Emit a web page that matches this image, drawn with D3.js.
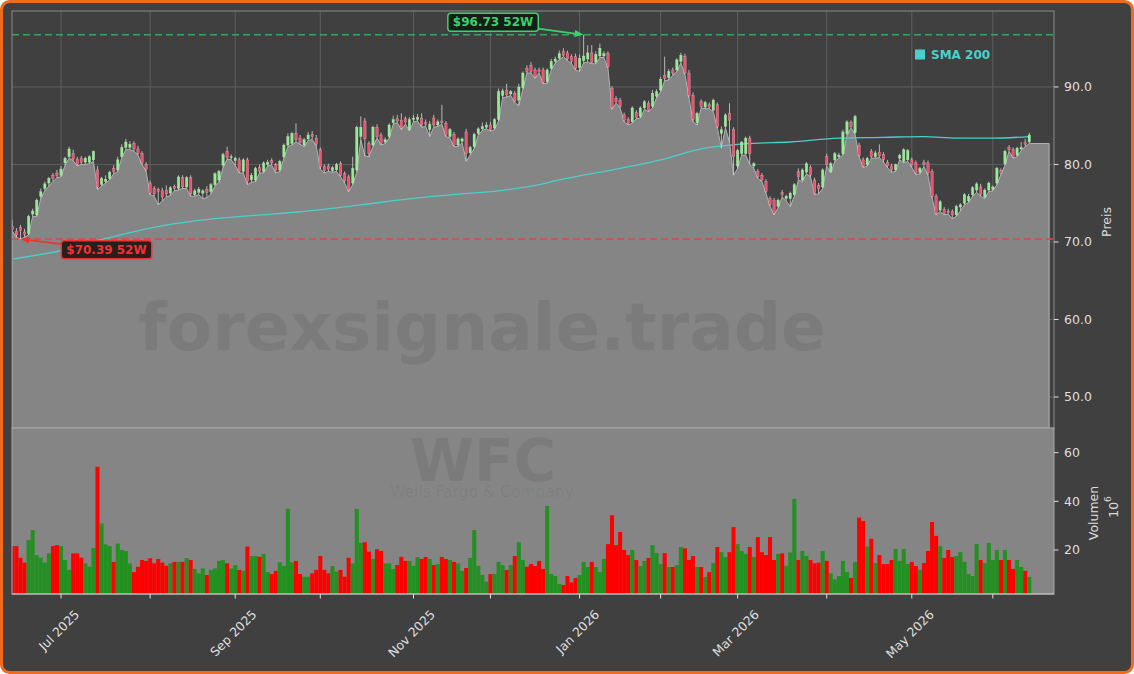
<!DOCTYPE html>
<html>
<head>
<meta charset="utf-8">
<script src="https://cdn.jsdelivr.net/npm/d3@7"></script>
<style>
  body { margin: 0; background: #ffffff; }
  svg { display: block; font-family: "DejaVu Sans", sans-serif; }
</style>
</head>
<body>
<svg id="chart" width="1134" height="674"></svg>
<script>
// ---- data ----
const startDate = new Date(2025, 5, 12);
const holidays = ["2025-06-19", "2025-07-04", "2025-09-01", "2025-11-27", "2025-12-25",
                  "2026-01-01", "2026-01-19", "2026-02-16", "2026-04-03", "2026-05-25"];

const opens = [72.0,71.4,71.9,71.3,71.1,73.6,73.5,75.9,76.9,77.6,
  78.6,78.9,78.6,80.2,81.0,81.4,80.7,80.8,80.3,80.3,
  80.6,79.3,77.4,77.8,78.2,79.5,79.3,81.0,82.2,82.2,
  82.7,82.0,81.4,80.0,77.6,76.9,76.8,76.6,76.7,76.3,
  77.2,76.9,78.3,77.1,78.3,76.1,76.4,76.3,76.8,76.5,
  77.4,78.0,79.9,81.7,80.9,80.5,80.6,79.1,80.6,78.0,
  78.0,79.6,79.1,80.0,80.5,80.0,79.3,81.0,82.5,82.7,
  84.0,83.4,82.5,83.3,83.9,83.4,81.9,79.7,79.8,79.2,
  79.3,80.1,78.8,78.4,77.6,79.3,83.6,85.6,82.7,82.5,
  84.8,83.8,82.9,83.6,85.4,85.9,85.7,85.9,84.5,85.8,
  85.8,86.0,85.4,84.5,86.0,85.1,85.6,85.3,83.6,83.9,
  82.5,83.0,84.2,81.5,82.3,84.0,84.6,84.8,85.1,84.7,
  85.8,88.9,89.6,89.1,89.2,88.3,89.9,92.4,92.8,92.2,
  92.2,92.2,90.7,92.4,93.3,93.7,94.6,94.4,93.9,93.9,
  92.5,93.4,93.6,94.4,93.2,94.0,94.0,94.3,89.8,88.5,
  88.3,86.4,85.8,85.5,86.7,86.2,87.3,87.9,87.5,88.8,
  89.6,91.5,91.2,92.2,92.2,93.3,93.9,91.8,88.9,85.4,
  88.1,87.4,87.7,87.0,87.7,84.0,84.9,86.6,84.5,79.8,
  81.4,81.4,83.4,79.8,79.1,78.6,77.8,75.6,75.4,74.6,
  76.4,75.6,75.6,76.1,79.1,78.0,79.0,79.6,78.0,77.3,
  77.1,81.0,79.1,80.6,81.0,81.4,84.0,85.4,84.1,82.5,
  80.6,80.0,81.7,81.0,81.6,81.3,80.3,79.8,79.3,80.8,
  80.4,80.6,80.6,80.2,79.0,80.3,80.2,79.1,75.9,74.1,
  74.2,74.0,73.9,73.5,74.5,75.0,75.3,76.1,76.7,77.1,
  75.8,76.7,76.8,77.6,79.2,80.1,82.2,81.9,81.2,82.0,
  82.8,82.9];

const highs = [72.8,71.8,72.2,71.7,73.5,74.3,75.6,76.9,77.8,78.4,
  78.9,79.3,79.8,81.0,82.3,81.9,81.0,81.1,81.0,81.2,
  81.8,79.8,78.4,78.6,79.2,79.9,81.0,82.6,83.3,83.0,
  83.0,82.4,81.7,80.3,77.9,77.2,77.0,77.0,77.3,77.2,
  77.4,78.6,78.6,78.5,78.6,76.9,77.1,76.8,77.2,77.6,
  79.0,79.3,81.5,82.3,81.3,81.0,80.9,80.8,80.9,78.9,
  79.7,80.0,80.4,80.6,80.8,80.2,80.6,82.7,84.0,84.2,
  85.3,83.8,83.4,84.2,84.3,83.8,82.2,80.0,80.1,79.8,
  80.2,80.4,79.1,78.7,81.0,85.0,86.2,86.0,83.0,85.0,
  85.2,84.1,83.5,85.3,86.3,86.4,86.6,86.2,86.1,86.4,
  86.5,86.6,85.8,85.6,86.4,85.8,87.7,85.6,84.7,84.2,
  83.5,83.5,84.6,82.4,84.1,84.8,85.4,85.5,85.5,86.0,
  89.8,89.8,90.4,89.6,89.5,90.4,92.0,92.8,93.2,92.5,
  92.5,92.5,92.4,93.6,93.9,94.7,95.0,94.7,94.2,94.3,
  94.2,96.73,95.4,95.4,94.6,95.6,94.6,94.6,90.1,88.8,
  88.6,86.7,86.1,87.5,87.0,87.5,88.3,88.2,89.6,89.7,
  91.3,93.9,92.3,92.5,93.7,94.4,94.3,92.2,89.3,86.8,
  88.4,88.2,88.0,88.5,88.0,84.9,86.6,87.9,84.8,82.0,
  83.0,83.6,83.7,80.3,79.4,78.9,78.1,75.9,75.7,75.6,
  76.7,76.1,76.5,77.6,79.5,79.5,80.3,79.9,78.3,77.6,
  79.5,81.4,80.3,81.6,81.5,84.5,85.7,85.7,86.4,82.8,
  80.9,81.0,82.0,81.8,82.6,81.6,80.6,80.1,80.1,81.4,
  82.1,82.0,80.9,80.5,79.7,80.6,80.5,79.4,76.2,75.4,
  74.5,74.3,74.2,74.8,75.0,76.3,76.2,77.2,77.7,77.5,
  76.9,77.8,77.3,79.7,79.5,81.9,82.5,82.2,82.3,82.9,
  83.3,84.1];

const lows = [71.4,70.6,70.39,70.6,70.9,73.3,73.3,75.6,76.6,77.2,
  77.8,78.3,78.4,79.9,80.8,80.5,79.8,80.0,80.0,80.1,
  80.4,76.8,77.2,77.6,78.0,78.8,79.1,80.9,81.9,81.9,
  81.7,81.2,80.0,79.1,76.1,75.9,74.8,75.3,75.8,76.0,
  76.6,76.7,76.9,76.9,75.9,75.9,76.1,75.6,75.7,76.2,
  77.2,77.7,79.6,80.7,80.6,79.9,78.9,78.9,77.4,77.7,
  77.8,78.9,78.9,79.8,79.9,78.9,79.1,80.8,82.3,82.5,
  82.9,82.6,82.3,83.1,83.2,82.4,79.4,78.9,79.1,79.0,
  79.1,78.4,77.6,76.5,77.4,79.0,83.2,81.1,81.0,82.3,
  83.4,82.5,82.7,83.4,85.2,85.4,84.5,85.2,84.3,85.5,
  85.6,84.8,84.9,83.6,84.8,84.9,85.2,83.6,83.4,82.3,
  82.3,82.8,80.4,81.2,82.1,83.8,84.4,84.6,84.3,84.5,
  85.6,88.6,88.7,88.9,88.0,87.6,89.7,91.8,91.8,91.1,
  91.8,90.4,90.5,92.2,93.1,93.5,93.9,93.4,93.0,92.2,
  92.0,93.1,93.2,93.0,93.0,93.8,93.8,92.4,87.1,87.9,
  87.3,85.5,85.1,85.3,85.9,86.0,87.1,86.8,87.3,88.6,
  89.4,90.8,90.9,91.5,92.0,93.1,91.6,88.6,85.5,85.1,
  87.3,87.2,87.2,86.8,84.7,82.1,84.7,82.9,78.6,79.5,
  81.2,81.2,80.0,79.5,78.2,77.8,76.3,74.6,73.5,74.4,
  75.8,75.3,74.6,75.9,78.0,77.8,78.8,78.4,76.1,76.2,
  76.9,79.8,78.9,80.4,80.8,81.2,83.8,84.7,83.9,81.0,
  79.6,79.8,80.8,80.8,80.9,80.3,79.6,79.0,79.1,80.6,
  80.2,80.4,79.6,78.7,78.8,79.7,78.6,75.7,73.5,73.9,
  73.5,73.6,73.0,73.3,74.0,74.8,75.1,75.9,76.4,75.9,
  75.6,76.5,76.6,77.4,78.7,79.9,81.7,80.8,81.0,81.8,
  82.3,82.7];

const closes = [71.6,70.9,71.5,71.0,73.3,74.0,75.4,76.5,77.5,78.2,
  78.2,78.6,79.4,80.8,82.0,80.7,80.0,80.3,80.8,81.0,
  81.7,77.1,78.2,78.1,79.0,79.1,80.6,82.2,82.9,82.6,
  82.0,81.4,80.2,79.4,76.3,76.2,76.5,75.8,76.2,77.0,
  76.9,78.4,77.1,78.3,76.2,76.6,76.8,76.6,76.4,77.4,
  78.8,79.1,81.3,80.9,81.0,80.8,79.1,80.6,77.8,78.6,
  79.5,79.1,80.2,80.3,80.2,79.3,80.4,82.5,83.6,84.0,
  83.2,82.8,83.2,83.8,83.6,82.6,79.7,79.2,79.4,79.6,
  80.0,78.6,77.9,76.7,79.5,84.8,84.8,83.3,81.4,84.8,
  83.6,82.7,83.2,85.1,85.8,85.6,84.7,85.5,85.8,86.0,
  86.1,85.1,85.2,85.2,85.1,85.5,85.4,83.8,84.5,82.5,
  83.3,83.3,81.4,82.2,83.9,84.6,84.9,85.1,84.5,85.8,
  89.4,89.5,89.0,89.4,88.2,90.0,91.8,92.0,92.0,91.3,
  92.0,90.6,92.2,93.3,93.6,94.3,94.1,93.6,93.3,92.4,
  93.7,94.0,94.4,93.2,94.2,95.0,94.3,92.6,87.3,88.1,
  87.5,85.7,85.3,87.3,86.1,87.3,88.1,87.0,89.2,89.4,
  91.0,91.1,92.0,91.8,93.5,94.1,91.8,88.9,85.8,86.6,
  87.5,88.0,87.4,88.3,84.9,84.5,86.4,85.7,81.0,81.8,
  82.9,83.4,81.4,80.1,78.4,78.0,76.5,74.8,73.7,75.4,
  76.1,75.9,76.3,77.4,78.4,79.3,80.1,78.6,76.3,76.9,
  79.3,80.0,80.1,81.4,81.2,84.2,85.5,84.9,86.2,81.2,
  79.8,80.8,81.0,81.5,81.1,80.6,79.8,79.3,80.0,81.2,
  81.9,81.8,80.0,78.9,79.5,80.0,78.9,75.9,73.7,75.2,
  73.7,73.8,73.5,74.6,74.8,76.1,75.9,77.0,77.5,76.1,
  76.7,77.6,77.1,79.5,78.9,81.7,81.9,81.0,82.1,82.2,
  82.6,83.8];

// volume in millions
const volumes = [21.6,21.6,16.8,14.8,24.1,28.2,17.9,16.8,14.8,18.6,
  21.6,22.0,21.6,15.9,11.8,18.6,18.6,16.8,14.5,13.1,
  20.8,54.2,30.9,22.3,21.6,15.1,22.7,20.0,19.6,14.5,
  10.9,13.1,15.9,15.5,16.6,14.5,16.3,14.8,13.5,14.5,
  15.1,15.1,15.1,16.7,15.9,12.2,10.4,12.4,9.7,11.8,
  12.4,15.5,15.9,14.5,12.4,13.8,11.8,11.4,21.4,17.5,
  17.5,17.2,18.4,10.9,10.1,11.4,14.9,13.4,36.9,14.9,
  15.5,10.1,9.0,9.0,10.4,11.8,17.5,11.8,10.4,13.4,
  11.1,11.8,9.0,16.8,14.5,36.9,22.9,23.2,19.3,16.3,
  20.3,19.6,14.5,14.5,12.2,13.8,17.2,15.5,15.5,13.5,
  17.1,16.3,17.1,16.3,13.8,14.2,17.1,16.3,15.9,15.1,
  14.5,11.4,12.6,16.7,28.2,13.4,9.7,7.0,10.1,10.1,
  15.1,13.8,11.8,13.8,17.5,23.2,15.9,13.1,14.2,13.4,
  15.5,12.2,38.1,10.1,9.3,6.0,5.6,9.3,6.7,8.5,
  9.7,15.1,13.0,15.1,13.0,10.9,16.3,22.4,34.3,22.0,
  27.4,20.0,17.9,20.0,15.9,13.4,15.5,16.7,22.0,18.7,
  14.2,18.7,13.0,13.0,13.8,21.2,20.7,15.9,17.5,13.0,
  13.0,8.9,10.9,14.6,21.2,19.1,17.1,19.1,29.4,22.4,
  19.6,18.4,21.2,17.1,25.3,19.1,17.9,25.3,15.9,18.4,
  18.6,13.5,19.0,41.0,15.9,19.6,17.5,15.9,14.5,14.8,
  19.6,15.5,10.4,7.9,9.3,15.5,10.9,8.5,15.1,33.3,
  31.9,21.4,24.6,14.6,17.9,14.2,14.2,15.9,20.4,15.5,
  20.4,14.2,15.1,13.4,11.8,14.6,19.6,31.5,25.8,21.6,
  16.7,20.0,17.1,17.5,19.1,15.1,10.1,9.3,22.4,15.9,
  14.6,22.9,15.9,20.0,15.9,20.0,15.9,12.2,15.9,13.0,
  11.4,8.9];

// SMA 200 read at a handful of trading-day indices
const smaIdx = [0, 12, 22, 34, 46, 59, 71, 86, 100, 111, 120, 128, 135, 149, 160, 170, 182, 192, 204, 215, 225, 233, 242, 251];
const smaVal = [67.8, 68.9, 70.3, 71.8, 72.8, 73.4, 73.9, 74.8, 75.7, 76.2, 76.6, 77.2, 78.0, 79.4, 80.6, 82.0, 82.7, 82.9, 83.4, 83.5, 83.6, 83.4, 83.4, 83.6];

const priceTicks = [50, 60, 70, 80, 90];
const volumeTicks = [20, 40, 60];
const high52 = 96.73, high52Idx = 141;
const low52 = 70.39, low52Idx = 2;

// ---- layout ----
const W = 1134, H = 674;
const P = { left: 12, right: 1054, top: 11, mid: 428, bottom: 594 };
const N = closes.length;
const areaEnd = 255.9;

const svg = d3.select("#chart");
svg.append("rect").attr("x", 1.5).attr("y", 1.5).attr("width", W - 3).attr("height", H - 3)
  .attr("rx", 8).attr("fill", "#404040").attr("stroke", "#f26b1d").attr("stroke-width", 3);

const x = d3.scaleLinear().domain([-0.1, 257.1]).range([P.left, P.right]);
const y = d3.scaleLinear().domain([46.0, 99.8]).range([P.mid, P.top]);
const yv = d3.scaleLinear().domain([1.9, 70.15]).range([P.bottom, P.mid]);

// trading days -> month ticks
const fmtKey = d3.timeFormat("%Y-%m-%d");
const fmtMonth = d3.timeFormat("%b %Y");
const dates = [];
for (let d = startDate; dates.length < N; d = d3.timeDay.offset(d, 1)) {
  const wd = d.getDay();
  if (wd === 0 || wd === 6 || holidays.includes(fmtKey(d))) continue;
  dates.push(d);
}
const monthTicks = [];
for (let i = 1; i < N; i++) {
  if (dates[i].getMonth() !== dates[i - 1].getMonth()) monthTicks.push({ i, date: dates[i] });
}

const defs = svg.append("defs");
defs.append("clipPath").attr("id", "clipPrice").append("rect")
  .attr("x", P.left).attr("y", P.top).attr("width", P.right - P.left).attr("height", P.mid - P.top);
defs.append("clipPath").attr("id", "clipVol").append("rect")
  .attr("x", P.left).attr("y", P.mid).attr("width", P.right - P.left).attr("height", P.bottom - P.mid);

// ---- price panel ----
const gp = svg.append("g").attr("clip-path", "url(#clipPrice)");
gp.append("rect").attr("x", P.left).attr("y", P.top).attr("width", P.right - P.left)
  .attr("height", P.mid - P.top).attr("fill", "#404040");

gp.selectAll(".hgrid").data(priceTicks).enter().append("line")
  .attr("x1", P.left).attr("x2", P.right).attr("y1", d => y(d)).attr("y2", d => y(d))
  .attr("stroke", "#5e5e5e").attr("stroke-width", 1);
gp.selectAll(".vgrid").data(monthTicks).enter().append("line")
  .attr("x1", d => x(d.i)).attr("x2", d => x(d.i)).attr("y1", P.top).attr("y2", P.mid)
  .attr("stroke", "#5e5e5e").attr("stroke-width", 1);

// area under the lows
const areaPts = lows.map((v, i) => [i, v]);
areaPts.push([areaEnd, lows[N - 1]]);
const area = d3.area().x(d => x(d[0])).y0(P.mid).y1(d => y(d[1]));
gp.append("path").datum(areaPts).attr("d", area)
  .attr("fill", "#858585").attr("stroke", "#b2b2b2").attr("stroke-width", 1);

gp.append("text").attr("x", 482).attr("y", 350).attr("text-anchor", "middle")
  .attr("font-size", 66).attr("font-weight", "bold").attr("fill", "#000").attr("fill-opacity", 0.075)
  .text("forexsignale.trade");

// 52-week lines
gp.append("line").attr("x1", P.left).attr("x2", P.right).attr("y1", y(high52)).attr("y2", y(high52))
  .attr("stroke", "#34a858").attr("stroke-width", 1.5).attr("stroke-dasharray", "7,4");
gp.append("line").attr("x1", P.left).attr("x2", P.right).attr("y1", y(low52)).attr("y2", y(low52))
  .attr("stroke", "#d94848").attr("stroke-width", 1.5).attr("stroke-dasharray", "7,4");

// SMA 200
const sma = d3.line().x(d => x(d[0])).y(d => y(d[1])).curve(d3.curveMonotoneX);
gp.append("path").datum(smaIdx.map((v, k) => [v, smaVal[k]])).attr("d", sma)
  .attr("fill", "none").attr("stroke", "#48d1cc").attr("stroke-width", 1.3);

// candles
const bw = 2.5;
const candles = gp.selectAll(".candle").data(closes.map((c, i) => ({ i, o: opens[i], h: highs[i], l: lows[i], c })))
  .enter().append("g");
candles.append("line")
  .attr("x1", d => x(d.i)).attr("x2", d => x(d.i)).attr("y1", d => y(d.h)).attr("y2", d => y(d.l))
  .attr("stroke", "#d4d4d4").attr("stroke-opacity", 0.8).attr("stroke-width", 1);
candles.append("rect")
  .attr("x", d => x(d.i) - bw / 2).attr("width", bw)
  .attr("y", d => y(Math.max(d.o, d.c)))
  .attr("height", d => Math.max(1, Math.abs(y(d.o) - y(d.c))))
  .attr("fill", d => d.c >= d.o ? "#90ee90" : "#f0506e")
  .attr("stroke", "#f4f4f4").attr("stroke-opacity", 0.5).attr("stroke-width", 0.4);

svg.append("rect").attr("x", P.left).attr("y", P.top).attr("width", P.right - P.left)
  .attr("height", P.mid - P.top).attr("fill", "none").attr("stroke", "#8a8a8a").attr("stroke-width", 1);

// ---- volume panel ----
const gv = svg.append("g").attr("clip-path", "url(#clipVol)");
gv.append("rect").attr("x", P.left).attr("y", P.mid).attr("width", P.right - P.left)
  .attr("height", P.bottom - P.mid).attr("fill", "#858585");
gv.append("text").attr("x", 483).attr("y", 481).attr("text-anchor", "middle")
  .attr("font-size", 58).attr("font-weight", "bold").attr("fill", "#000").attr("fill-opacity", 0.07)
  .text("WFC");
gv.append("text").attr("x", 482).attr("y", 497).attr("text-anchor", "middle")
  .attr("font-size", 15.5).attr("fill", "#000").attr("fill-opacity", 0.06)
  .text("Wells Fargo & Company");

const vw = x(1) - x(0);
gv.selectAll(".vbar").data(volumes).enter().append("rect")
  .attr("x", (d, i) => x(i) - vw / 2).attr("width", vw)
  .attr("y", d => yv(d)).attr("height", d => P.bottom - yv(d))
  .attr("fill", (d, i) => closes[i] >= opens[i] ? "#229122" : "#ff0000");

svg.append("rect").attr("x", P.left).attr("y", P.mid).attr("width", P.right - P.left)
  .attr("height", P.bottom - P.mid).attr("fill", "none").attr("stroke", "#a8a8a8").attr("stroke-width", 1);
svg.append("line").attr("x1", P.left).attr("x2", P.right).attr("y1", P.bottom).attr("y2", P.bottom)
  .attr("stroke", "#c8c8c8").attr("stroke-width", 1);

// ---- axes ----
const tickCol = "#dedede", fs = 12.5;
const ga = svg.append("g").attr("font-size", fs).attr("fill", tickCol);
priceTicks.forEach(t => {
  ga.append("line").attr("x1", P.right).attr("x2", P.right + 4.5).attr("y1", y(t)).attr("y2", y(t))
    .attr("stroke", tickCol).attr("stroke-width", 1);
  ga.append("text").attr("x", P.right + 10).attr("y", y(t)).attr("dominant-baseline", "central")
    .text(d3.format(".1f")(t));
});
volumeTicks.forEach(t => {
  ga.append("line").attr("x1", P.right).attr("x2", P.right + 4.5).attr("y1", yv(t)).attr("y2", yv(t))
    .attr("stroke", tickCol).attr("stroke-width", 1);
  ga.append("text").attr("x", P.right + 10).attr("y", yv(t)).attr("dominant-baseline", "central")
    .text(t);
});
ga.append("text").attr("transform", "translate(1106,222) rotate(-90)").attr("text-anchor", "middle")
  .attr("dominant-baseline", "central").text("Preis");
ga.append("text").attr("transform", "translate(1093,513) rotate(-90)").attr("text-anchor", "middle")
  .attr("dominant-baseline", "central").text("Volumen");
const pw = ga.append("text").attr("transform", "translate(1113,507) rotate(-90)").attr("text-anchor", "middle")
  .attr("dominant-baseline", "central");
pw.append("tspan").text("10");
pw.append("tspan").attr("dy", -5).attr("font-size", 9).text("6");

monthTicks.forEach((t, k) => {
  ga.append("line").attr("x1", x(t.i)).attr("x2", x(t.i)).attr("y1", P.bottom).attr("y2", P.bottom + 4.5)
    .attr("stroke", tickCol).attr("stroke-width", 1);
  if (k % 2 === 0) {
    const lab = ga.append("text").attr("text-anchor", "middle").attr("dominant-baseline", "central")
      .text(fmtMonth(t.date));
    const w = lab.node().getComputedTextLength();
    const cy = 607 + (w + fs * 1.17) / (2 * Math.SQRT2);
    lab.attr("transform", `translate(${x(t.i) - 2},${cy}) rotate(-45)`);
  }
});

// ---- legend ----
svg.append("rect").attr("x", 915).attr("y", 49.5).attr("width", 10).attr("height", 10).attr("fill", "#48d1cc");
svg.append("text").attr("x", 931).attr("y", 58.5).attr("font-size", 12).attr("font-weight", "bold")
  .attr("fill", "#48d1cc").text("SMA 200");

// ---- 52W annotations ----
function annotate(idx, val, dx, dy, label, col, bg) {
  const tx = x(idx), ty = y(val);
  const cx = tx + dx, cy = ty + dy;
  const g = svg.append("g");
  const t = g.append("text").attr("x", cx).attr("y", cy).attr("text-anchor", "middle")
    .attr("dominant-baseline", "central").attr("font-size", 12).attr("font-weight", "bold")
    .attr("fill", col).text(label);
  const hw = t.node().getComputedTextLength() / 2 + 5, hh = 9;
  g.insert("rect", "text").attr("x", cx - hw).attr("y", cy - hh).attr("width", hw * 2).attr("height", hh * 2)
    .attr("rx", 3).attr("fill", bg).attr("fill-opacity", 0.9).attr("stroke", col).attr("stroke-width", 1.5);
  const ex = cx + Math.sign(tx - cx) * hw;
  const ey = cy + (ty - cy) * (hw / Math.abs(tx - cx));
  const ang = Math.atan2(ty - ey, tx - ex), L = 9, Wd = 3.5;
  const bx = tx - L * Math.cos(ang), by = ty - L * Math.sin(ang);
  g.append("line").attr("x1", ex).attr("y1", ey).attr("x2", bx).attr("y2", by)
    .attr("stroke", col).attr("stroke-width", 1.8);
  g.append("path").attr("fill", col).attr("d",
    `M${tx},${ty}L${bx - Wd * Math.sin(ang)},${by + Wd * Math.cos(ang)}L${bx + Wd * Math.sin(ang)},${by - Wd * Math.cos(ang)}Z`);
}
annotate(high52Idx, high52, -90.6, -12.5, "$" + high52.toFixed(2) + " 52W", "#3bd16f", "#0f1a12");
annotate(low52Idx, low52, 86, 10.7, "$" + low52.toFixed(2) + " 52W", "#ee3333", "#1f1212");
</script>
</body>
</html>
